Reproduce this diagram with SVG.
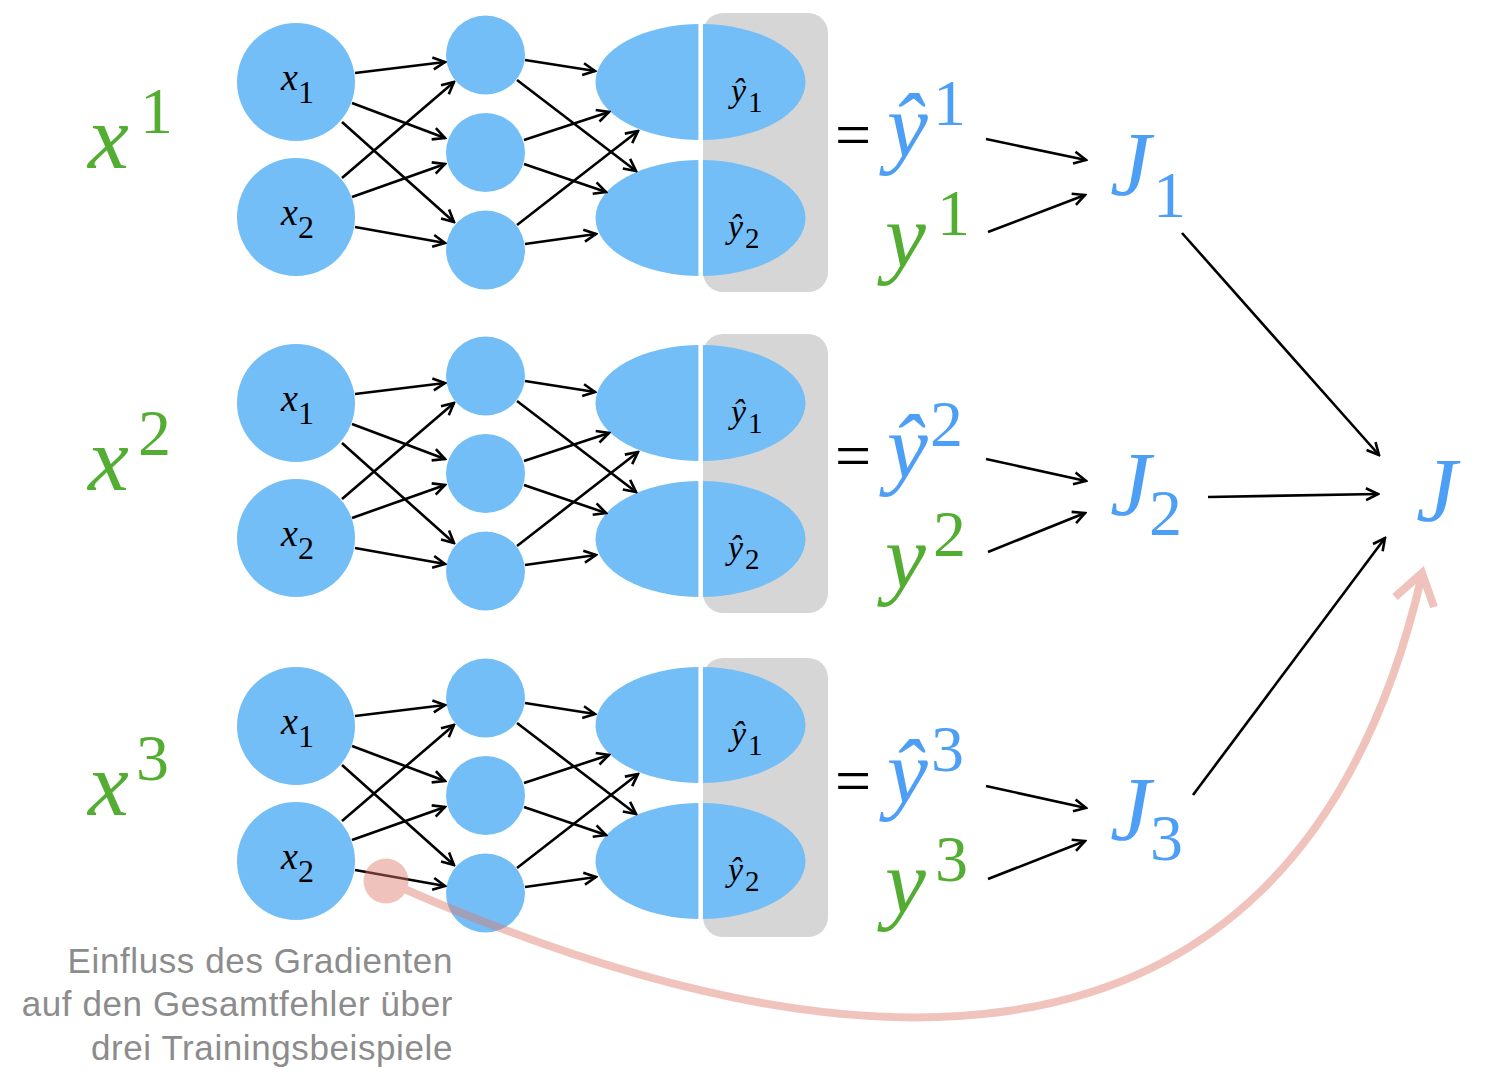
<svg xmlns="http://www.w3.org/2000/svg" width="1492" height="1078" viewBox="0 0 1492 1078">
<defs>
<style>
.node{fill:#73bef7}
.panel{fill:#d6d6d6}
.gap{stroke:#fff;stroke-width:4.5}
.lbl{font-family:"Liberation Serif","DejaVu Serif",serif;fill:#000}
.it{font-style:italic}
.big{font-family:"Liberation Serif","DejaVu Serif",serif;font-size:92px}
.sup{font-style:normal;font-size:66px}
.blue{fill:#4c9ff4}
.green{fill:#52ad32}
.conn line{stroke:#000;stroke-width:2.6;marker-end:url(#ah)}
.note{font-family:"Liberation Sans","Arial",sans-serif;font-size:35px;fill:#8c8c8c;letter-spacing:0.6px}
</style>
<marker id="ah" viewBox="0 0 16 16" refX="14" refY="8" markerWidth="16" markerHeight="16" markerUnits="userSpaceOnUse" orient="auto">
<path d="M2,2 L14,8 L2,14" fill="none" stroke="#000" stroke-width="2.6"/>
</marker>
</defs>
<rect width="1492" height="1078" fill="#fff"/>

<!-- Block 1 nodes -->
<g id="block1">
<g id="b1-out"><rect class="panel" x="703" y="13" width="125" height="279" rx="20"/>
<ellipse class="node" cx="700.5" cy="82" rx="105" ry="58"/>
<ellipse class="node" cx="700.5" cy="218" rx="105" ry="58"/>
<line class="gap" x1="700.7" y1="20" x2="700.7" y2="285"/>
<text class="lbl" x="731" y="102"><tspan class="it" font-size="34">ŷ</tspan><tspan font-size="29" dx="2" dy="10">1</tspan></text>
<text class="lbl" x="728" y="238"><tspan class="it" font-size="34">ŷ</tspan><tspan font-size="29" dx="2" dy="10">2</tspan></text>
</g>
<g id="b1-x1"><circle class="node" cx="296" cy="82" r="59"/><text class="lbl" x="281" y="90"><tspan class="it" font-size="38">x</tspan><tspan font-size="32" dy="13">1</tspan></text></g>
<g id="b1-x2"><circle class="node" cx="296" cy="217" r="59"/><text class="lbl" x="281" y="225"><tspan class="it" font-size="38">x</tspan><tspan font-size="32" dy="13">2</tspan></text></g>
<g id="b1-h1"><circle class="node" cx="485.5" cy="55" r="39.5"/></g>
<g id="b1-h2"><circle class="node" cx="485.5" cy="152.5" r="39.5"/></g>
<g id="b1-h3"><circle class="node" cx="485.5" cy="250" r="39.5"/></g>
</g>

<g id="block2" transform="translate(0,321)">
<g id="b2-out"><rect class="panel" x="703" y="13" width="125" height="279" rx="20"/>
<ellipse class="node" cx="700.5" cy="82" rx="105" ry="58"/>
<ellipse class="node" cx="700.5" cy="218" rx="105" ry="58"/>
<line class="gap" x1="700.7" y1="20" x2="700.7" y2="285"/>
<text class="lbl" x="731" y="102"><tspan class="it" font-size="34">ŷ</tspan><tspan font-size="29" dx="2" dy="10">1</tspan></text>
<text class="lbl" x="728" y="238"><tspan class="it" font-size="34">ŷ</tspan><tspan font-size="29" dx="2" dy="10">2</tspan></text>
</g>
<g id="b2-x1"><circle class="node" cx="296" cy="82" r="59"/><text class="lbl" x="281" y="90"><tspan class="it" font-size="38">x</tspan><tspan font-size="32" dy="13">1</tspan></text></g>
<g id="b2-x2"><circle class="node" cx="296" cy="217" r="59"/><text class="lbl" x="281" y="225"><tspan class="it" font-size="38">x</tspan><tspan font-size="32" dy="13">2</tspan></text></g>
<g id="b2-h1"><circle class="node" cx="485.5" cy="55" r="39.5"/></g>
<g id="b2-h2"><circle class="node" cx="485.5" cy="152.5" r="39.5"/></g>
<g id="b2-h3"><circle class="node" cx="485.5" cy="250" r="39.5"/></g>
</g>

<g id="block3" transform="translate(0,643)">
<g id="b3-out"><rect class="panel" x="703" y="15" width="125" height="279" rx="20"/>
<ellipse class="node" cx="700.5" cy="82" rx="105" ry="58"/>
<ellipse class="node" cx="700.5" cy="218" rx="105" ry="58"/>
<line class="gap" x1="700.7" y1="20" x2="700.7" y2="285"/>
<text class="lbl" x="731" y="102"><tspan class="it" font-size="34">ŷ</tspan><tspan font-size="29" dx="2" dy="10">1</tspan></text>
<text class="lbl" x="728" y="238"><tspan class="it" font-size="34">ŷ</tspan><tspan font-size="29" dx="2" dy="10">2</tspan></text>
</g>
<g id="b3-x1"><circle class="node" cx="296" cy="83" r="59"/><text class="lbl" x="281" y="91"><tspan class="it" font-size="38">x</tspan><tspan font-size="32" dy="13">1</tspan></text></g>
<g id="b3-x2"><circle class="node" cx="296" cy="218" r="59"/><text class="lbl" x="281" y="226"><tspan class="it" font-size="38">x</tspan><tspan font-size="32" dy="13">2</tspan></text></g>
<g id="b3-h1"><circle class="node" cx="485.5" cy="55" r="39.5"/></g>
<g id="b3-h2"><circle class="node" cx="485.5" cy="152.5" r="39.5"/></g>
<g id="b3-h3"><circle class="node" cx="485.5" cy="250" r="39.5"/></g>
</g>

<!-- Left labels -->
<g id="lbl-x1"><text class="big it green" x="88" y="168">x<tspan class="sup" x="140" y="133">1</tspan></text></g>
<g id="lbl-x2"><text class="big it green" x="88" y="490">x<tspan class="sup" x="138" y="455">2</tspan></text></g>
<g id="lbl-x3"><text class="big it green" x="88" y="815">x<tspan class="sup" x="136" y="780">3</tspan></text></g>

<!-- Right labels -->
<g id="out1">
<text class="lbl" x="835" y="156" font-size="64">=</text>
<text class="big it blue" x="887" y="157">ŷ<tspan class="sup" x="933" y="125">1</tspan></text>
<text class="big it green" x="885" y="267">y<tspan class="sup" x="937" y="235">1</tspan></text>
</g>
<g id="out2">
<text class="lbl" x="835" y="477" font-size="64">=</text>
<text class="big it blue" x="887" y="478">ŷ<tspan class="sup" x="930" y="446">2</tspan></text>
<text class="big it green" x="885" y="588">y<tspan class="sup" x="933" y="556">2</tspan></text>
</g>
<g id="out3">
<text class="lbl" x="835" y="802" font-size="64">=</text>
<text class="big it blue" x="887" y="803">ŷ<tspan class="sup" x="931" y="771">3</tspan></text>
<text class="big it green" x="885" y="913">y<tspan class="sup" x="935" y="881">3</tspan></text>
</g>
<g id="J1"><text class="big it blue" x="1110" y="195">J<tspan class="sup" x="1153" y="217">1</tspan></text></g>
<g id="J2"><text class="big it blue" x="1110" y="515">J<tspan class="sup" x="1149" y="535">2</tspan></text></g>
<g id="J3"><text class="big it blue" x="1110" y="840">J<tspan class="sup" x="1150" y="860">3</tspan></text></g>
<g id="J"><text class="big it blue" x="1416" y="521">J</text></g>

<!-- Connectors -->
<g id="connectors" class="conn">
<g id="conn-b1">
<line x1="355" y1="73" x2="445" y2="62"/>
<line x1="352" y1="103" x2="445" y2="138"/>
<line x1="342" y1="122" x2="454" y2="222"/>
<line x1="342" y1="178" x2="454" y2="82"/>
<line x1="352" y1="197" x2="445" y2="164"/>
<line x1="355" y1="227" x2="445" y2="243"/>
<line x1="525" y1="60" x2="595" y2="71"/>
<line x1="517" y1="80" x2="636" y2="171"/>
<line x1="524" y1="140" x2="609" y2="112"/>
<line x1="524" y1="164" x2="606" y2="192"/>
<line x1="517" y1="225" x2="638" y2="131"/>
<line x1="525" y1="244" x2="596" y2="234"/>
</g>
<g id="conn-b2" transform="translate(0,321)">
<line x1="355" y1="73" x2="445" y2="62"/>
<line x1="352" y1="103" x2="445" y2="138"/>
<line x1="342" y1="122" x2="454" y2="222"/>
<line x1="342" y1="178" x2="454" y2="82"/>
<line x1="352" y1="197" x2="445" y2="164"/>
<line x1="355" y1="227" x2="445" y2="243"/>
<line x1="525" y1="60" x2="595" y2="71"/>
<line x1="517" y1="80" x2="636" y2="171"/>
<line x1="524" y1="140" x2="609" y2="112"/>
<line x1="524" y1="164" x2="606" y2="192"/>
<line x1="517" y1="225" x2="638" y2="131"/>
<line x1="525" y1="244" x2="596" y2="234"/>
</g>
<g id="conn-b3" transform="translate(0,643)">
<line x1="355" y1="73" x2="445" y2="62"/>
<line x1="352" y1="103" x2="445" y2="138"/>
<line x1="342" y1="122" x2="454" y2="222"/>
<line x1="342" y1="178" x2="454" y2="82"/>
<line x1="352" y1="197" x2="445" y2="164"/>
<line x1="355" y1="227" x2="445" y2="243"/>
<line x1="525" y1="60" x2="595" y2="71"/>
<line x1="517" y1="80" x2="636" y2="171"/>
<line x1="524" y1="140" x2="609" y2="112"/>
<line x1="524" y1="164" x2="606" y2="192"/>
<line x1="517" y1="225" x2="638" y2="131"/>
<line x1="525" y1="244" x2="596" y2="234"/>
</g>
<g id="conn-J">
<line x1="986" y1="139" x2="1086" y2="160"/>
<line x1="988" y1="232" x2="1085" y2="195"/>
<line x1="986" y1="459" x2="1086" y2="481"/>
<line x1="988" y1="552" x2="1085" y2="513"/>
<line x1="986" y1="786" x2="1086" y2="808"/>
<line x1="988" y1="879" x2="1085" y2="841"/>
<line x1="1182" y1="233" x2="1379" y2="455"/>
<line x1="1208" y1="497" x2="1378" y2="494"/>
<line x1="1193" y1="795" x2="1385" y2="538"/>
</g>
</g>

<!-- Gradient influence -->
<g id="gradient" opacity="0.45" fill="none" stroke="#e07a6c" stroke-width="8">
<circle cx="386" cy="881" r="22.5" fill="#e07a6c" stroke="none"/>
<path d="M386,881 C800,1065 1290,1145 1422,575"/>
<path d="M1395,597 L1422,573 L1434,607"/>
</g>

<g id="note" class="note" text-anchor="end">
<text x="453" y="973">Einfluss des Gradienten</text>
<text x="453" y="1016">auf den Gesamtfehler über</text>
<text x="453" y="1060">drei Trainingsbeispiele</text>
</g>
</svg>
